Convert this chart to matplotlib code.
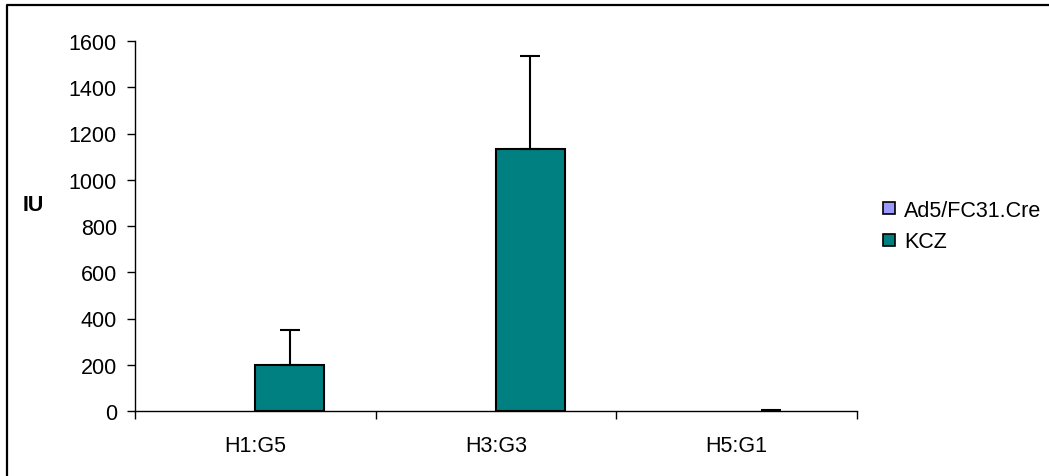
import matplotlib
matplotlib.use("Agg")
import matplotlib.pyplot as plt
import numpy as np
from matplotlib.lines import Line2D

plt.rcParams['font.family'] = ['Liberation Sans', 'DejaVu Sans']

categories = ["H1:G5", "H3:G3", "H5:G1"]
series_names = ["Ad5/FC31.Cre", "KCZ"]
ad5_values = [0, 0, 0]
ad5_errors = [0, 0, 0]
kcz_values = [197, 1133, 2]
kcz_errors = [155, 400, 2]
yticks = [0, 200, 400, 600, 800, 1000, 1200, 1400, 1600]
colors = ["#9999FF", "#008080"]

W, H = 1049, 477
fig = plt.figure(figsize=(W/100, H/100), dpi=100)
ax = fig.add_axes([135/W, 1-412/H, (857-135)/W, (412-42)/H])

x = np.arange(len(categories))
bw = 1/3.5
fs = 15.5

for i, (vals, errs) in enumerate([(ad5_values, ad5_errors), (kcz_values, kcz_errors)]):
    pos = x + (i - 0.5) * bw
    lws = [1.5 if v > 5 else 0 for v in vals]
    ax.bar(pos, vals, width=bw, color=colors[i], edgecolor="black", linewidth=lws, zorder=2)
    show = [j for j in range(len(vals)) if errs[j] > 0]
    if show:
        ax.errorbar(pos[show], np.array(vals)[show],
                    yerr=[np.zeros(len(show)), np.array(errs)[show]], fmt="none", ecolor="black",
                    elinewidth=1.5, capsize=7, capthick=1.5, zorder=3)

ax.set_xlim(-0.5, len(categories) - 0.5)
ax.set_ylim(0, 1600)
ax.set_yticks(yticks)
ax.set_yticklabels([str(v) for v in yticks], fontsize=fs)
ax.set_xticks(x)
ax.set_xticklabels(categories, fontsize=fs)
ax.tick_params(axis="x", which="major", length=0, pad=17)
ax.set_xticks(np.arange(len(categories) + 1) - 0.5, minor=True)
ax.tick_params(axis="x", which="minor", length=6, direction="out", width=1)
ax.tick_params(axis="y", length=6, direction="out", width=1, pad=7)
for s in ["top", "right"]:
    ax.spines[s].set_visible(False)
for s in ["left", "bottom"]:
    ax.spines[s].set_linewidth(1)

fig.text(33/W, 1-206/H, "IU", fontsize=fs, fontweight="bold", ha="center", va="center")

handles = [Line2D([], [], marker="s", linestyle="none", markersize=8.5,
                  markerfacecolor=c, markeredgecolor="black", markeredgewidth=1.2) for c in colors]
fig.legend(handles, series_names, loc="center left", bbox_to_anchor=(872/W, 1-227/H),
           frameon=False, fontsize=fs, handlelength=0.8, handletextpad=0.3,
           labelspacing=0.5, borderaxespad=0)

fig.add_artist(Line2D([7/W, 7/W, 1.0], [0.0, 1-6/H, 1-6/H], transform=fig.transFigure,
                      color="black", linewidth=1.6))

fig.savefig("out.png", dpi=100)
